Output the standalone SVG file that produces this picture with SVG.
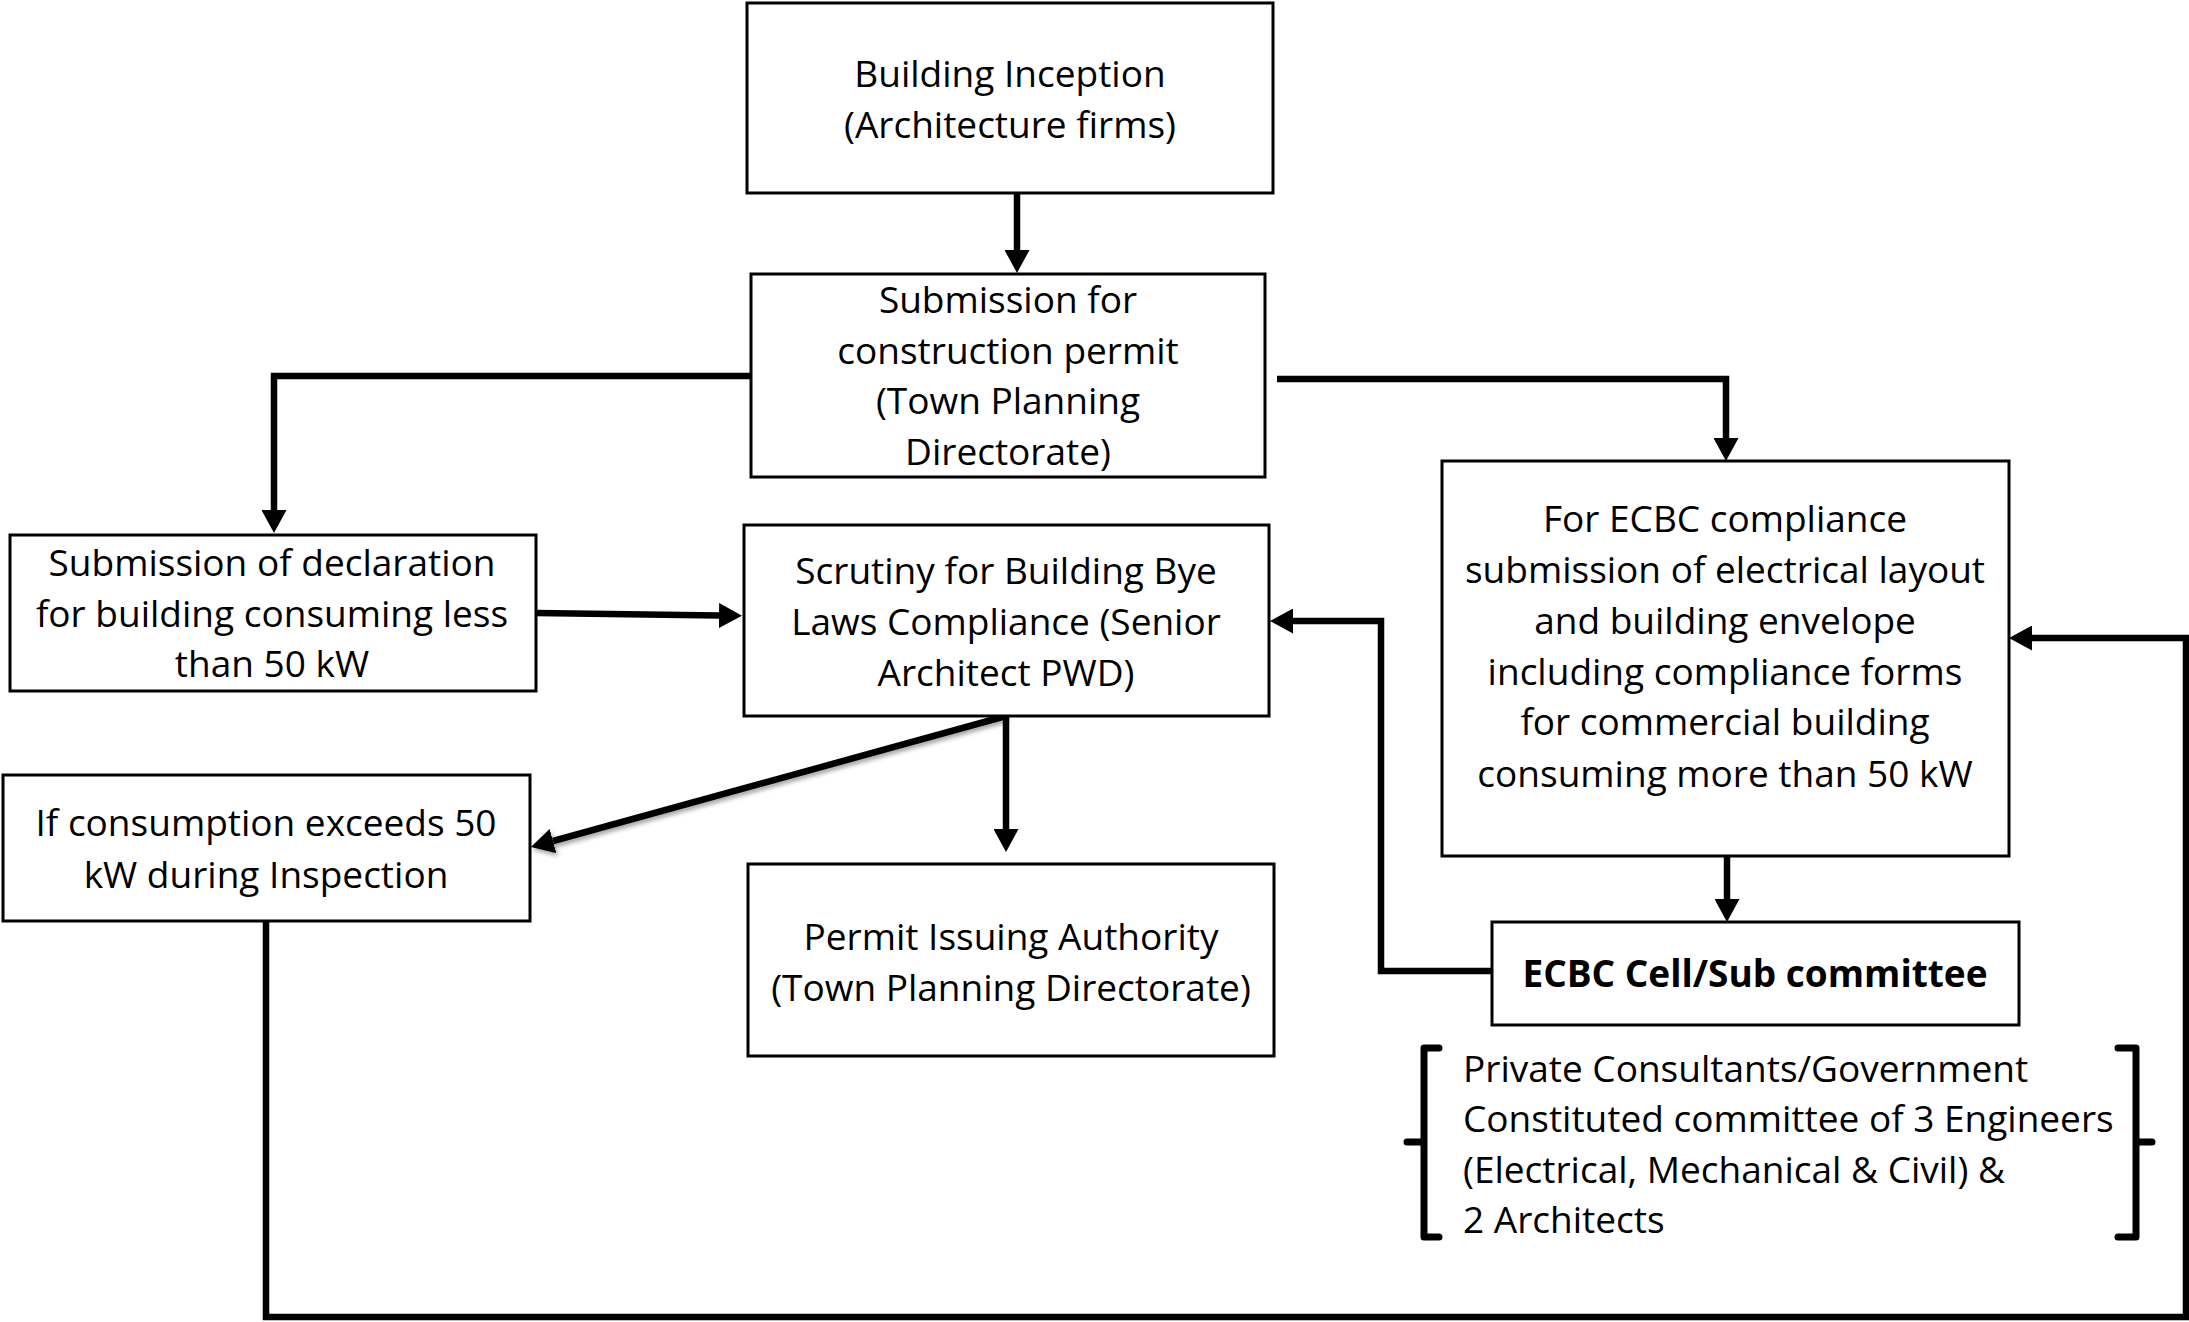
<svg xmlns="http://www.w3.org/2000/svg" width="2189" height="1322" viewBox="0 0 2189 1322">
<style>
  .box { fill: #ffffff; stroke: #000000; stroke-width: 3; }
  .t { font-family: "Open Sans", "Liberation Sans", sans-serif; font-size: 37px; fill: #000000; text-anchor: middle; }
  .tl { font-family: "Open Sans", "Liberation Sans", sans-serif; font-size: 37px; fill: #000000; text-anchor: start; }
  .b { font-weight: bold; }
  .c { fill: none; stroke: #000000; stroke-width: 6.5; stroke-linejoin: miter; marker-end: url(#ah); }
  .br { fill: none; stroke: #000000; stroke-width: 7; stroke-linejoin: round; stroke-linecap: round; }
</style>
<defs>
  <marker id="ah" markerUnits="userSpaceOnUse" markerWidth="23" markerHeight="25" refX="0" refY="12.5" orient="auto">
    <path d="M0,0 L23,12.5 L0,25 Z" fill="#000000"/>
  </marker>
  <filter id="sh" x="-10%" y="-10%" width="120%" height="130%">
    <feDropShadow dx="2" dy="3" stdDeviation="2" flood-color="#000000" flood-opacity="0.35"/>
  </filter>
</defs>
<rect x="0" y="0" width="2189" height="1322" fill="#ffffff"/>

<g id="connectors">
  <path class="c" d="M1017,194 V250"/>
  <path class="c" d="M751,376 H274 V510"/>
  <path class="c" d="M1277,379 H1726 V438"/>
  <path class="c" d="M536,613 L719,615.5"/>
  <path class="c" d="M1006,716 V829"/>
  <path class="c" d="M1006,716 L553,841" filter="url(#sh)"/>
  <path class="c" d="M1727,856 V899"/>
  <path class="c" d="M1492,971 H1381 V621 H1293"/>
  <path class="c" d="M266,921 V1317 H2186 V638 H2032"/>
</g>

<g id="node-inception">
  <rect class="box" x="747" y="3" width="526" height="190"/>
  <text class="t" x="1010" y="87">Building Inception</text>
  <text class="t" x="1010" y="138">(Architecture firms)</text>
</g>

<g id="node-submission">
  <rect class="box" x="751" y="274" width="514" height="203"/>
  <text class="t" x="1008" y="313">Submission for</text>
  <text class="t" x="1008" y="364">construction permit</text>
  <text class="t" x="1008" y="414">(Town Planning</text>
  <text class="t" x="1008" y="465">Directorate)</text>
</g>

<g id="node-declaration">
  <rect class="box" x="10" y="535" width="526" height="156"/>
  <text class="t" x="272" y="576">Submission of declaration</text>
  <text class="t" x="272" y="627">for building consuming less</text>
  <text class="t" x="272" y="677">than 50 kW</text>
</g>

<g id="node-scrutiny">
  <rect class="box" x="744" y="525" width="525" height="191"/>
  <text class="t" x="1006" y="584">Scrutiny for Building Bye</text>
  <text class="t" x="1006" y="635">Laws Compliance (Senior</text>
  <text class="t" x="1006" y="686">Architect PWD)</text>
</g>

<g id="node-exceeds">
  <rect class="box" x="3" y="775" width="527" height="146"/>
  <text class="t" x="266" y="836">If consumption exceeds 50</text>
  <text class="t" x="266" y="888">kW during Inspection</text>
</g>

<g id="node-permit">
  <rect class="box" x="748" y="864" width="526" height="192"/>
  <text class="t" x="1011" y="950">Permit Issuing Authority</text>
  <text class="t" x="1011" y="1001">(Town Planning Directorate)</text>
</g>

<g id="node-ecbc">
  <rect class="box" x="1442" y="461" width="567" height="395"/>
  <text class="t" x="1725" y="532">For ECBC compliance</text>
  <text class="t" x="1725" y="583">submission of electrical layout</text>
  <text class="t" x="1725" y="634">and building envelope</text>
  <text class="t" x="1725" y="685">including compliance forms</text>
  <text class="t" x="1725" y="735">for commercial building</text>
  <text class="t" x="1725" y="787">consuming more than 50 kW</text>
</g>

<g id="node-cell">
  <rect class="box" x="1492" y="922" width="527" height="103"/>
  <text class="t b" x="1755" y="987">ECBC Cell/Sub committee</text>
</g>

<g id="node-committee">
  <path class="br" d="M1439,1048 H1424 V1237 H1439 M1424,1142 H1407"/>
  <path class="br" d="M2118,1048 H2136 V1237 H2118 M2136,1142 H2152"/>
  <text class="tl" x="1463" y="1082">Private Consultants/Government</text>
  <text class="tl" x="1463" y="1132">Constituted committee of 3 Engineers</text>
  <text class="tl" x="1463" y="1183">(Electrical, Mechanical &amp; Civil) &amp;</text>
  <text class="tl" x="1463" y="1233">2 Architects</text>
</g>
</svg>
